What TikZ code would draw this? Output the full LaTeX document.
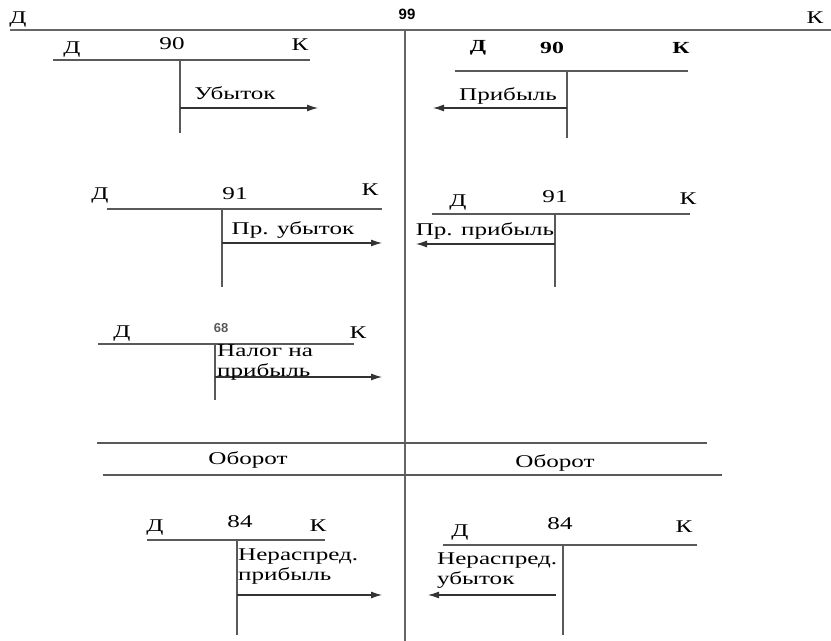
\documentclass[tikz,border=0pt]{standalone}
\usepackage{fontspec}
\usetikzlibrary{arrows.meta}
\setmainfont{Liberation Serif}
\newfontfamily\wfont[FakeStretch=1.4]{Liberation Serif}
\newfontfamily\hfont{Liberation Sans}
\begin{document}
\begin{tikzpicture}[>={Latex[length=11bp,width=7bp]},line join=bevel,
  acc/.style={draw=black!65,line width=1.3bp},
  main/.style={draw=black!60,line width=2bp},
  txt/.style={inner sep=0pt,font=\wfont\fontsize{18}{20}\selectfont},
  hd/.style={inner sep=0pt,font=\wfont\bfseries\fontsize{17}{20}\selectfont},
  post/.style={draw=black!80,line width=1.1bp,->},
]
%%
\useasboundingbox (0bp,0bp) rectangle (831bp,641bp);
% account 99
\coordinate (a99_l) at (10.0bp,611.0bp);
\coordinate (a99_r) at (831.0bp,611.0bp);
\coordinate (a99_t) at (405.0bp,611.0bp);
\coordinate (a99_b) at (405.0bp,0.0bp);
\draw [main] (a99_l) -- (a99_r);
\draw [main] (a99_t) -- (a99_b);
\node (d99) at (18.0bp,621.0bp) [txt] {Д};
\node (k99) at (815.0bp,623.0bp) [txt] {К};
\node (n99) at (407.0bp,627.0bp) [inner sep=0pt,font=\hfont\bfseries\fontsize{15}{17}\selectfont] {99};
%
% account 90, left
\coordinate (a90l_l) at (53.0bp,581.0bp);
\coordinate (a90l_r) at (310.0bp,581.0bp);
\coordinate (a90l_t) at (180.0bp,581.0bp);
\coordinate (a90l_b) at (180.0bp,508.0bp);
\coordinate (a90l_s) at (180.0bp,533.0bp);
\coordinate (a90l_e) at (318.0bp,533.0bp);
\draw [acc] (a90l_l) -- (a90l_r);
\draw [acc] (a90l_t) -- (a90l_b);
\draw [post] (a90l_s) -- (a90l_e);
\node (d90l) at (72.0bp,591.0bp) [txt] {Д};
\node (n90l) at (172.0bp,597.0bp) [txt] {90};
\node (k90l) at (300.0bp,596.0bp) [txt] {К};
\node (loss90) at (235.0bp,548.0bp) [txt] {Убыток};
%
% account 90, right
\coordinate (a90r_l) at (455.0bp,570.0bp);
\coordinate (a90r_r) at (688.0bp,570.0bp);
\coordinate (a90r_t) at (567.0bp,570.0bp);
\coordinate (a90r_b) at (567.0bp,503.0bp);
\coordinate (a90r_s) at (567.0bp,533.0bp);
\coordinate (a90r_e) at (433.0bp,533.0bp);
\draw [acc] (a90r_l) -- (a90r_r);
\draw [acc] (a90r_t) -- (a90r_b);
\draw [post] (a90r_s) -- (a90r_e);
\node (d90r) at (478.0bp,593.0bp) [hd] {Д};
\node (n90r) at (552.0bp,593.0bp) [hd] {90};
\node (k90r) at (681.0bp,593.0bp) [hd] {К};
\node (gain90) at (508.0bp,545.0bp) [txt] {Прибыль};
%
% account 91, left
\coordinate (a91l_l) at (107.0bp,432.0bp);
\coordinate (a91l_r) at (382.0bp,432.0bp);
\coordinate (a91l_t) at (222.0bp,432.0bp);
\coordinate (a91l_b) at (222.0bp,354.0bp);
\coordinate (a91l_s) at (222.0bp,398.0bp);
\coordinate (a91l_e) at (382.0bp,398.0bp);
\draw [acc] (a91l_l) -- (a91l_r);
\draw [acc] (a91l_t) -- (a91l_b);
\draw [post] (a91l_s) -- (a91l_e);
\node (d91l) at (100.0bp,445.0bp) [txt] {Д};
\node (n91l) at (235.0bp,447.0bp) [txt] {91};
\node (k91l) at (370.0bp,451.0bp) [txt] {К};
\node (loss91) at (293.0bp,411.0bp) [txt] {Пр. убыток};
%
% account 91, right
\coordinate (a91r_l) at (432.0bp,427.0bp);
\coordinate (a91r_r) at (690.0bp,427.0bp);
\coordinate (a91r_t) at (555.0bp,427.0bp);
\coordinate (a91r_b) at (555.0bp,354.0bp);
\coordinate (a91r_s) at (555.0bp,397.0bp);
\coordinate (a91r_e) at (416.0bp,397.0bp);
\draw [acc] (a91r_l) -- (a91r_r);
\draw [acc] (a91r_t) -- (a91r_b);
\draw [post] (a91r_s) -- (a91r_e);
\node (d91r) at (458.0bp,438.0bp) [txt] {Д};
\node (n91r) at (555.0bp,444.0bp) [txt] {91};
\node (k91r) at (688.0bp,442.0bp) [txt] {К};
\node (gain91) at (485.0bp,410.0bp) [txt] {Пр. прибыль};
%
% account 68
\coordinate (a68_l) at (98.0bp,297.0bp);
\coordinate (a68_r) at (354.0bp,297.0bp);
\coordinate (a68_t) at (215.0bp,297.0bp);
\coordinate (a68_b) at (215.0bp,241.0bp);
\coordinate (a68_s) at (215.0bp,264.0bp);
\coordinate (a68_e) at (382.0bp,264.0bp);
\draw [acc] (a68_l) -- (a68_r);
\draw [acc] (a68_t) -- (a68_b);
\draw [post] (a68_s) -- (a68_e);
\node (d68) at (122.0bp,307.0bp) [txt] {Д};
\node (n68) at (221.0bp,313.0bp) [inner sep=0pt,text=black!65,font=\hfont\bfseries\fontsize{13}{15}\selectfont] {68};
\node (k68) at (358.0bp,308.0bp) [txt] {К};
\node (tax68) at (217.0bp,296.0bp) [txt,anchor=north west,align=left] {Налог на\\прибыль};
%
% turnover
\coordinate (to_tl) at (97.0bp,198.0bp);
\coordinate (to_tr) at (707.0bp,198.0bp);
\coordinate (to_bl) at (103.0bp,166.0bp);
\coordinate (to_br) at (722.0bp,166.0bp);
\draw [acc] (to_tl) -- (to_tr);
\draw [acc] (to_bl) -- (to_br);
\node (tod) at (248.0bp,181.0bp) [txt] {Оборот};
\node (tok) at (555.0bp,178.0bp) [txt] {Оборот};
%
% account 84, left
\coordinate (a84l_l) at (147.0bp,101.0bp);
\coordinate (a84l_r) at (325.0bp,101.0bp);
\coordinate (a84l_t) at (237.0bp,101.0bp);
\coordinate (a84l_b) at (237.0bp,6.0bp);
\coordinate (a84l_s) at (237.0bp,46.0bp);
\coordinate (a84l_e) at (382.0bp,46.0bp);
\draw [acc] (a84l_l) -- (a84l_r);
\draw [acc] (a84l_t) -- (a84l_b);
\draw [post] (a84l_s) -- (a84l_e);
\node (d84l) at (155.0bp,113.0bp) [txt] {Д};
\node (n84l) at (240.0bp,119.0bp) [txt] {84};
\node (k84l) at (318.0bp,115.0bp) [txt] {К};
\node (gain84) at (238.0bp,92.0bp) [txt,anchor=north west,align=left] {Нераспред.\\прибыль};
%
% account 84, right
\coordinate (a84r_l) at (443.0bp,96.0bp);
\coordinate (a84r_r) at (697.0bp,96.0bp);
\coordinate (a84r_t) at (563.0bp,96.0bp);
\coordinate (a84r_b) at (563.0bp,6.0bp);
\coordinate (a84r_s) at (556.0bp,46.0bp);
\coordinate (a84r_e) at (428.0bp,46.0bp);
\draw [acc] (a84r_l) -- (a84r_r);
\draw [acc] (a84r_t) -- (a84r_b);
\draw [post] (a84r_s) -- (a84r_e);
\node (d84r) at (460.0bp,108.0bp) [txt] {Д};
\node (n84r) at (560.0bp,117.0bp) [txt] {84};
\node (k84r) at (684.0bp,114.0bp) [txt] {К};
\node (loss84) at (437.0bp,88.0bp) [txt,anchor=north west,align=left] {Нераспред.\\убыток};
%
\end{tikzpicture}
\end{document}
